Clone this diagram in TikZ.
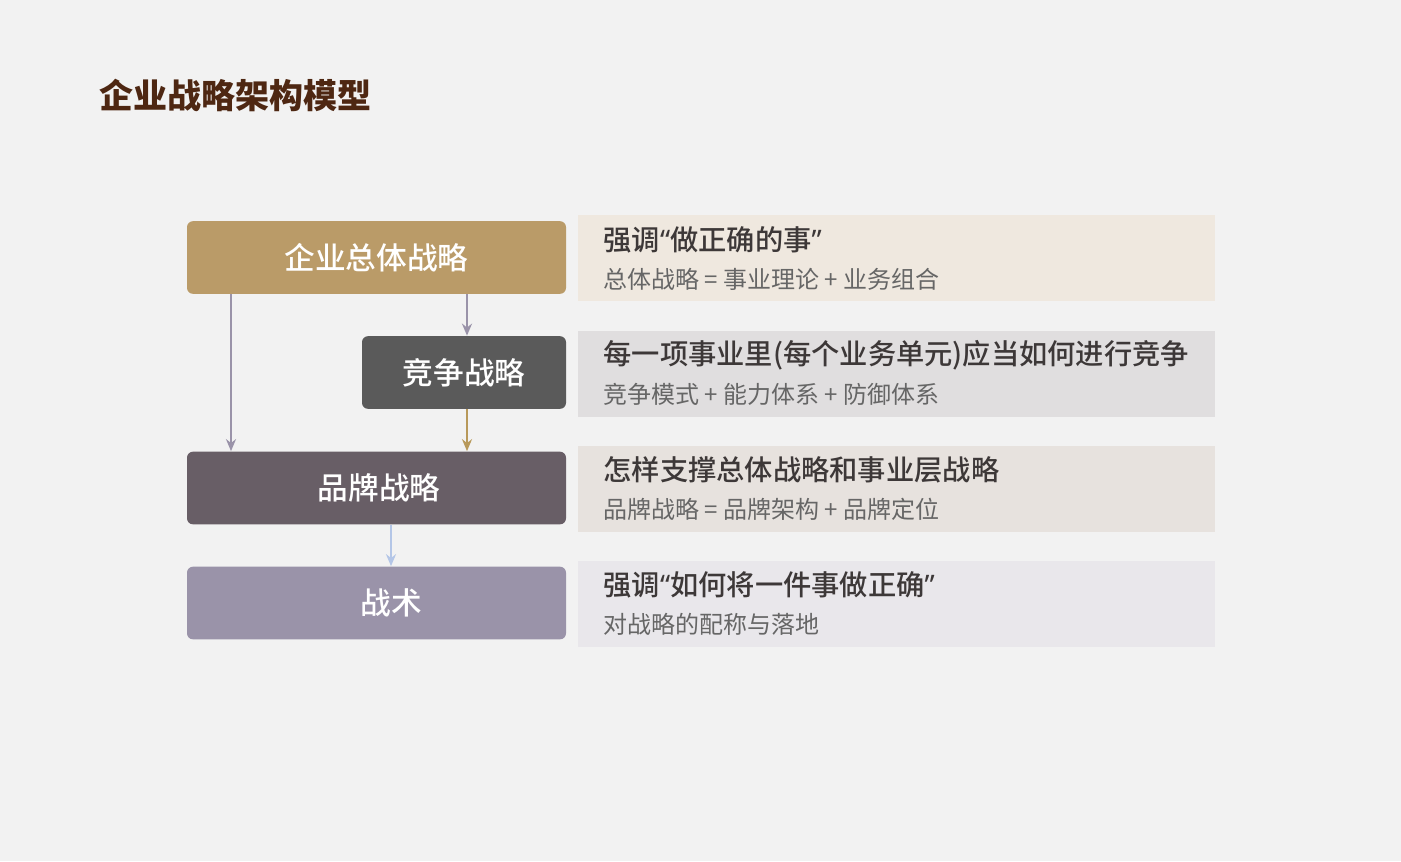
\documentclass[tikz,border=0pt]{standalone}
\usepackage{fontspec}
\setmainfont{Noto Sans CJK SC}
\newfontfamily\mediumf{Noto Sans CJK SC Medium}
\newfontfamily\quotef{Noto Sans}
\usetikzlibrary{arrows.meta}
\definecolor{bg}{HTML}{F2F2F2}
\definecolor{titlec}{HTML}{4E2712}
\definecolor{gold}{HTML}{BA9B68}
\definecolor{darkg}{HTML}{5A5A5A}
\definecolor{plum}{HTML}{685E66}
\definecolor{lilac}{HTML}{9A93A9}
\definecolor{arrgold}{HTML}{B8995A}
\definecolor{arrblue}{HTML}{B4C6E7}
\definecolor{headc}{HTML}{3D3838}
\definecolor{subc}{HTML}{666666}
\definecolor{pa}{HTML}{EFE8DF}
\definecolor{pb}{HTML}{E0DEDF}
\definecolor{pc}{HTML}{E7E2DE}
\definecolor{pd}{HTML}{E9E7EB}
\newcommand{\openq}{{\quotef “}}
\newcommand{\closeq}{{\quotef ”}}

\begin{document}
\begin{tikzpicture}[x=0.75pt, y=-0.75pt, thick,
  box/.style = {rectangle, rounded corners=4.5pt, inner sep=0pt, minimum height=54.5pt, text=white, font=\fontsize{23pt}{28pt}\mediumf},
  panel/.style = {rectangle, anchor=north west, inner sep=0pt, minimum width=477.75pt, minimum height=64.5pt},
  head/.style = {anchor=west, inner sep=0pt, text=headc, font=\fontsize{21.2pt}{25pt}\mediumf},
  sub/.style = {anchor=west, inner sep=0pt, text=subc, font=\fontsize{18pt}{21pt}\selectfont},
  link/.style = {line width=1.5pt, -{Stealth[length=9pt, width=7.5pt]}}]
		\fill[bg] (0,0) rectangle (1401,861);
		\node[anchor=west, inner sep=0pt, text=titlec, font=\fontsize{25.5pt}{30pt}\selectfont\bfseries] (title) at (99,95) {企业战略架构模型};
		
		\node[box, fill=gold, minimum width=284.25pt] (b1) at (376.5,257.5) {企业总体战略};
		\node[box, fill=darkg, minimum width=153pt] (b2) at (464,372.5) {竞争战略};
		\node[box, fill=plum, minimum width=284.25pt] (b3) at (376.5,488) {\hspace*{4pt}品牌战略};
		\node[box, fill=lilac, minimum width=284.25pt] (b4) at (376.5,603) {\hspace*{22pt}战术};
		
		\node[panel, fill=pa] (p1) at (577,214) {};
		\node[panel, fill=pb] (p2) at (577,330) {};
		\node[panel, fill=pc] (p3) at (577,445) {};
		\node[panel, fill=pd] (p4) at (577,560) {};
		
		\node[head] (h1) at (603,240) {强调\openq 做正确的事\closeq};
		\node[sub] (s1) at (603,279) {总体战略 = 事业理论 + 业务组合};
		\node[head] (h2) at (603,355) {每一项事业里(每个业务单元)应当如何进行竞争};
		\node[sub] (s2) at (603,394) {竞争模式 + 能力体系 + 防御体系};
		\node[head] (h3) at (603,470) {怎样支撑总体战略和事业层战略};
		\node[sub] (s3) at (603,509) {品牌战略 = 品牌架构 + 品牌定位};
		\node[head] (h4) at (603,585) {强调\openq 如何将一件事做正确\closeq};
		\node[sub] (s4) at (603,624) {对战略的配称与落地};
		
		\coordinate (left) at (231,0);
		\coordinate (right) at (467,0);
		\coordinate (mid) at (391,0);
		\draw[link, lilac] (b1.south -| left) -- (b3.north -| left);
		\draw[link, lilac] (b1.south -| right) -- (b2.north -| right);
		\draw[link, arrgold] (b2.south -| right) -- (b3.north -| right);
		\draw[link, arrblue] (b3.south -| mid) -- (b4.north -| mid);
		\end{tikzpicture}
\end{document}
